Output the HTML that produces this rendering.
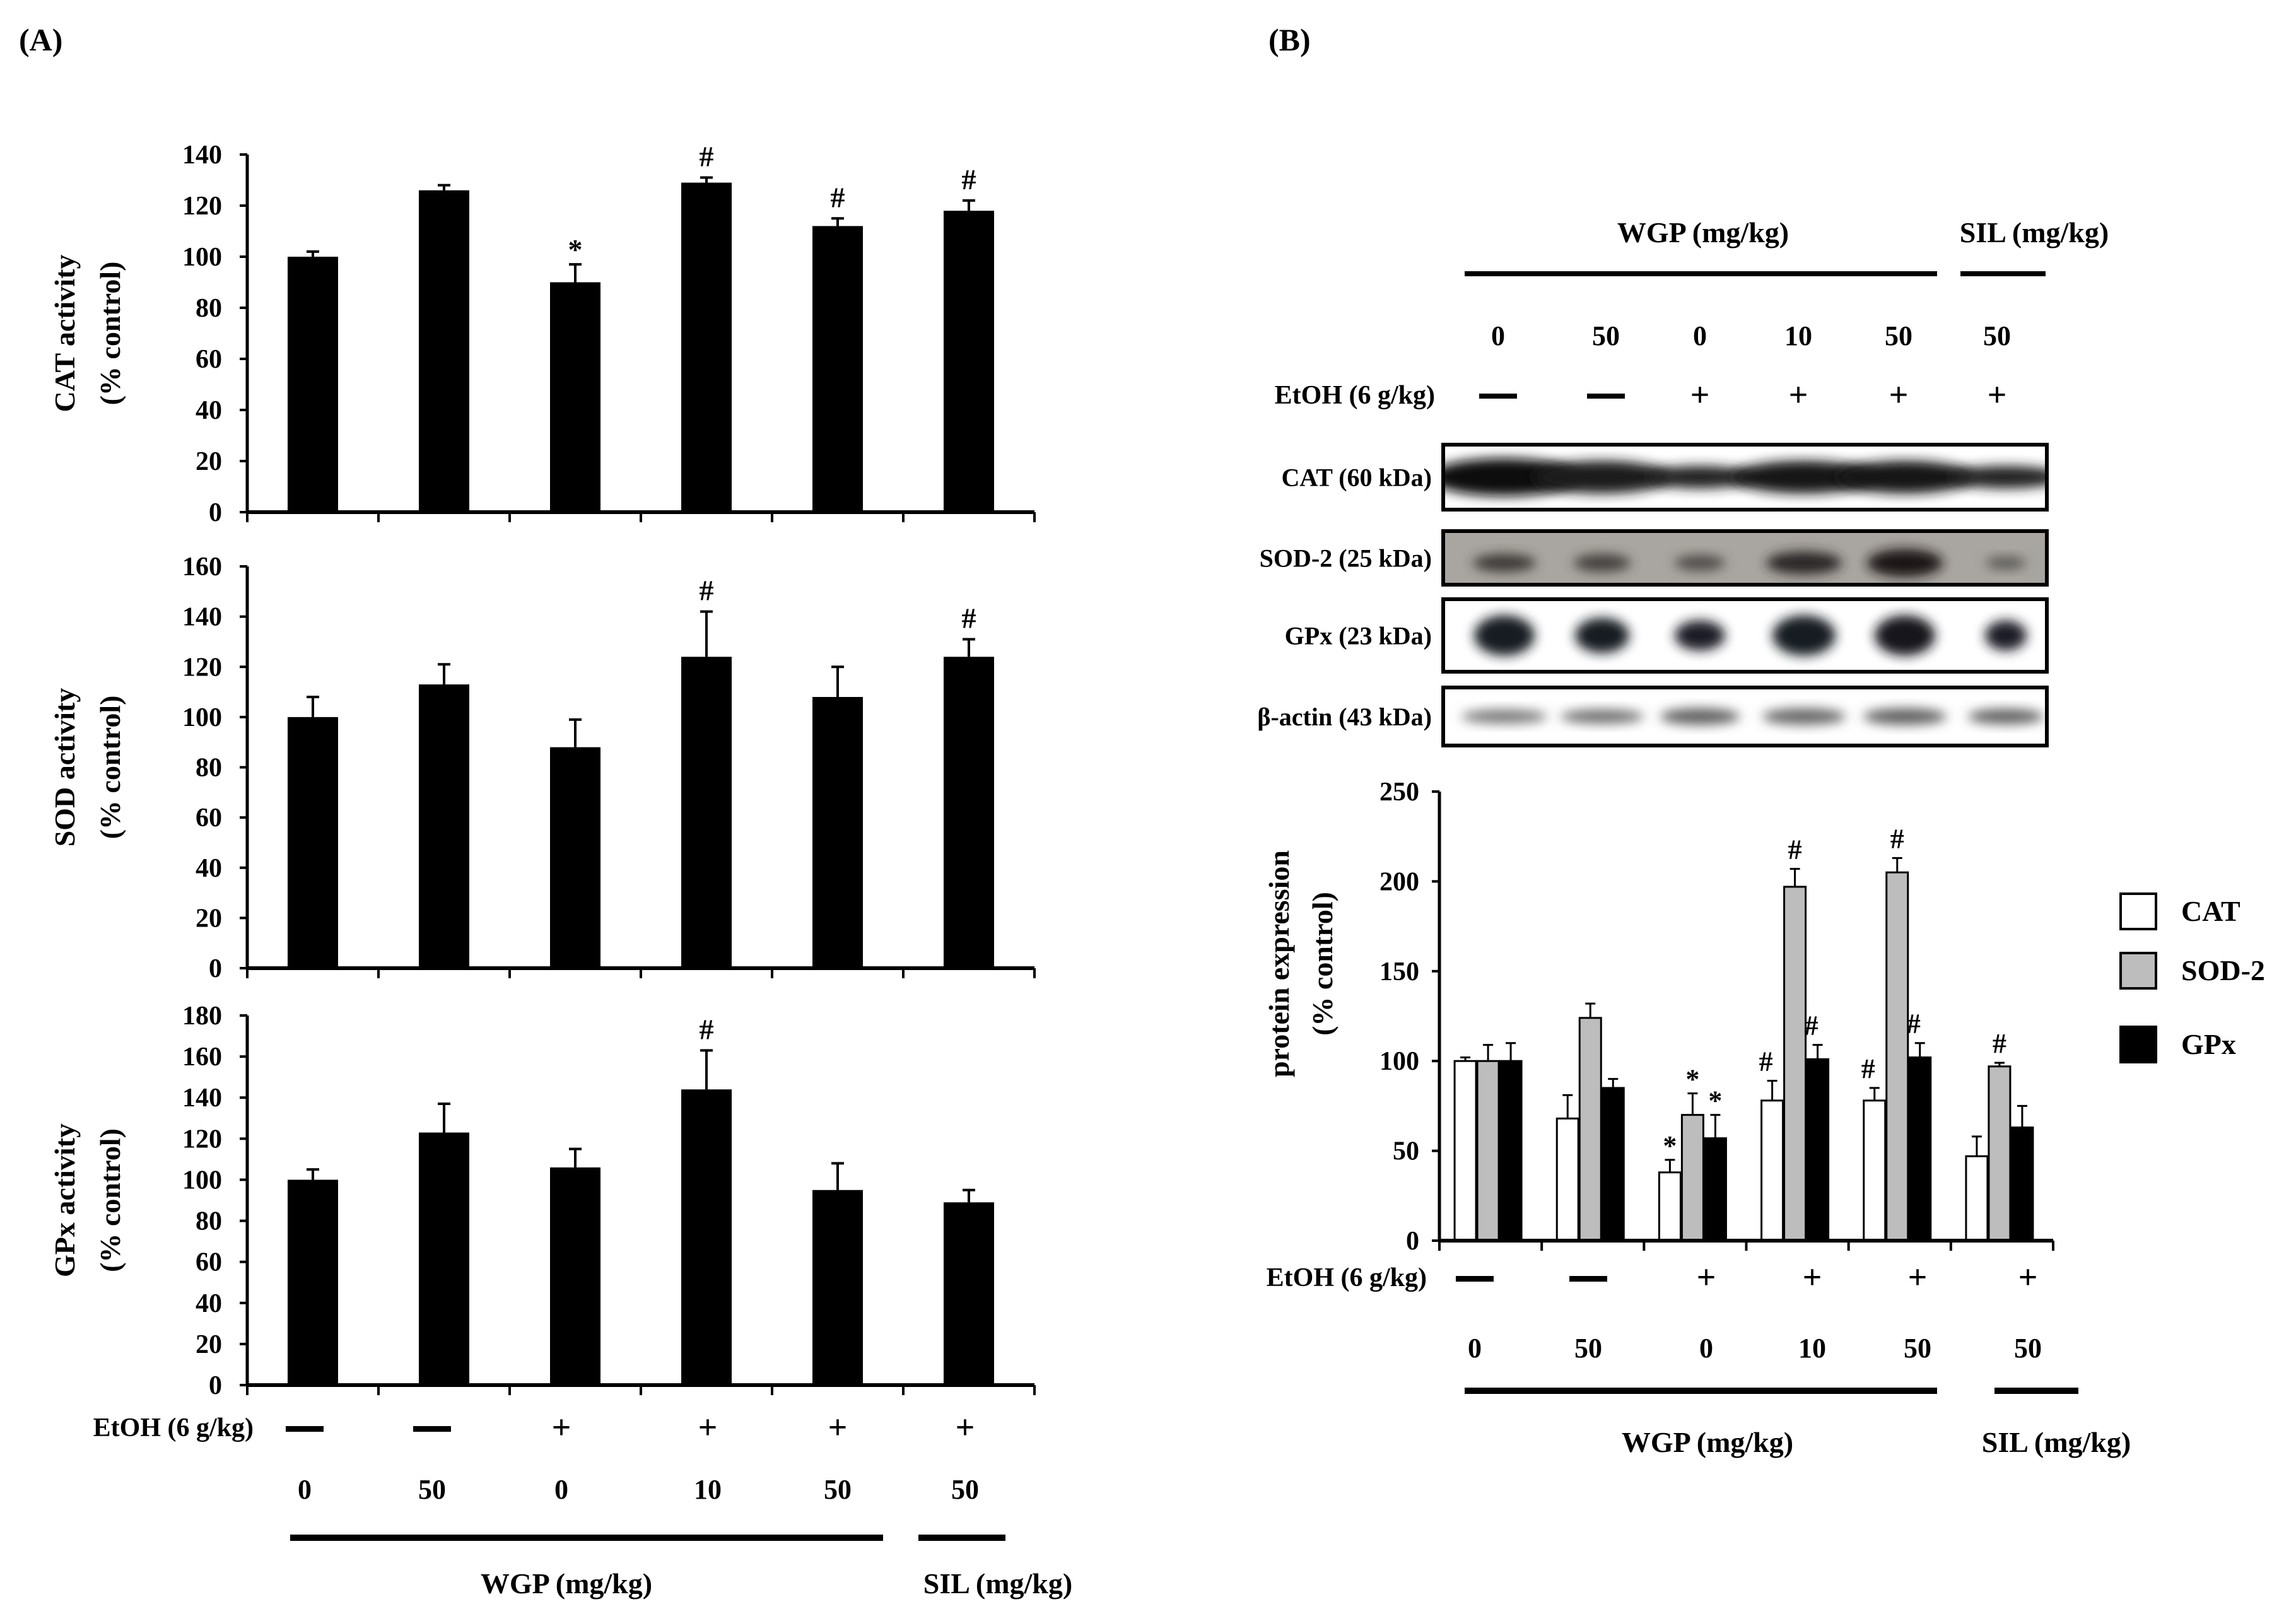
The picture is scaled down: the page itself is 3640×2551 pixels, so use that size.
<!DOCTYPE html>
<html><head><meta charset="utf-8"><style>
html,body{margin:0;padding:0;background:#fff}
svg{display:block}
text{font-family:"Liberation Serif",serif;font-weight:bold;fill:#000}
</style></head><body>
<svg id="fig" width="3640" height="2551" viewBox="0 0 3640 2551" xmlns="http://www.w3.org/2000/svg">
<defs>
<filter id="blur" x="-30%" y="-60%" width="160%" height="220%"><feGaussianBlur stdDeviation="9"/></filter>
</defs>
</svg>
<script>
// ---- Panel A data ----
const groups = ["0","50","0","10","50","50"];
const etoh = ["—","—","+","+","+","+"];
const catActivity = [100,126,90,129,112,118];
const catActivityErr = [2,2,7,2,3,4];
const catActivitySig = ["","","*","#","#","#"];
const sodActivity = [100,113,88,124,108,124];
const sodActivityErr = [8,8,11,18,12,7];
const sodActivitySig = ["","","","#","","#"];
const gpxActivity = [100,123,106,144,95,89];
const gpxActivityErr = [5,14,9,19,13,6];
const gpxActivitySig = ["","","","#","",""];
const catTicks = [0,20,40,60,80,100,120,140];
const sodTicks = [0,20,40,60,80,100,120,140,160];
const gpxTicks = [0,20,40,60,80,100,120,140,160,180];
// ---- Panel B data ----
const seriesNames = ["CAT","SOD-2","GPx"];
const catExpr = [100,68,38,78,78,47];
const catExprErr = [2,13,7,11,7,11];
const catExprSig = ["","","*","#","#",""];
const sodExpr = [100,124,70,197,205,97];
const sodExprErr = [9,8,12,10,8,2];
const sodExprSig = ["","","*","#","#","#"];
const gpxExpr = [100,85,57,101,102,63];
const gpxExprErr = [10,5,13,8,8,12];
const gpxExprSig = ["","","*","#","#",""];
const exprTicks = [0,50,100,150,200,250];
const blotLabels = ["CAT (60 kDa)","SOD-2 (25 kDa)","GPx (23 kDa)","β-actin (43 kDa)"];

const svg = document.getElementById('fig');
const NS = "http://www.w3.org/2000/svg";
function mk(tag, attrs, parent){
  const e = document.createElementNS(NS, tag);
  for (const k in attrs) e.setAttribute(k, attrs[k]);
  (parent||svg).appendChild(e);
  return e;
}
function txt(x,y,s,size,anchor,parent){
  const t = mk('text',{x:x,y:y,'font-size':size,'text-anchor':anchor||'middle'},parent);
  t.textContent = s;
  return t;
}

let t;
t = txt(30,80,"(A)",50,'start');


t = txt(2011,80,"(B)",50,'start');



const aX0 = 392, aX1 = 1640;
const aCenters = i => aX0 + (aX1-aX0)*(i+0.5)/6;
function chartA(name, vals, errs, sigs, ticks, yTop, yBot, title){
  const g = mk('g',{});
  
  
  const max = ticks[ticks.length-1];
  const y = v => yBot - (yBot-yTop)*v/max;
  mk('line',{x1:aX0,y1:yTop,x2:aX0,y2:yBot,stroke:'#000','stroke-width':5},g);
  ticks.forEach(v=>{
    mk('line',{x1:aX0-12,y1:y(v),x2:aX0,y2:y(v),stroke:'#000','stroke-width':4},g);
    const tl = txt(352,y(v)+14,String(v),42,'end',g);
    
    
  });
  mk('line',{x1:aX0,y1:yBot,x2:aX1,y2:yBot,stroke:'#000','stroke-width':6},g);
  for(let i=0;i<=6;i++){
    const xx = aX0+(aX1-aX0)*i/6;
    mk('line',{x1:xx,y1:yBot,x2:xx,y2:yBot+16,stroke:'#000','stroke-width':4},g);
  }
  vals.forEach((v,i)=>{
    const cx = aCenters(i);
    const b = mk('rect',{x:cx-40,y:y(v),width:80,height:yBot-y(v),fill:'#000'},g);
    
    
    const ye = y(v+errs[i]);
    mk('line',{x1:cx,y1:y(v),x2:cx,y2:ye,stroke:'#000','stroke-width':4},g);
    mk('line',{x1:cx-10,y1:ye,x2:cx+10,y2:ye,stroke:'#000','stroke-width':4},g);
    if(sigs[i]){
      const s = txt(cx, ye-18 + (sigs[i]=='*'?10:0), sigs[i], 46,'middle',g);
      
      
    }
  });
  const cy = (yTop+yBot)/2;
  const tt = mk('text',{transform:`translate(118,${cy}) rotate(-90)`,'font-size':46,'text-anchor':'middle'},g);
  tt.textContent = title;
  
  
  const t2 = mk('text',{transform:`translate(190,${cy}) rotate(-90)`,'font-size':46,'text-anchor':'middle'},g);
  t2.textContent = "(% control)";
  
  
}
chartA('cat-activity', catActivity, catActivityErr, catActivitySig, catTicks, 245, 812, "CAT activity");
chartA('sod-activity', sodActivity, sodActivityErr, sodActivitySig, sodTicks, 898, 1535, "SOD activity");
chartA('gpx-activity', gpxActivity, gpxActivityErr, gpxActivitySig, gpxTicks, 1610, 2196, "GPx activity");

function treatmentRows(centers, yE, yN, yL, wgpX0, wgpX1, silX0, silX1, labelX, yLab, wgpLabX, silLabX, prefix){
  t = txt(labelX, yE+14, "EtOH (6 g/kg)", 42, 'end');
  
  
  centers.forEach((cx,i)=>{
    if(etoh[i]=="—"){
      const r = mk('rect',{x:cx-30,y:yE-2,width:60,height:9,fill:'#000'});
      
      
    } else {
      const p = txt(cx, yE+18, "+", 54, 'middle');
      
      
    }
    const n = txt(cx, yN+15, groups[i], 44, 'middle');
    
    
  });
  let l = mk('rect',{x:wgpX0,y:yL-5,width:wgpX1-wgpX0,height:10,fill:'#000'});
  
  
  l = mk('rect',{x:silX0,y:yL-5,width:silX1-silX0,height:10,fill:'#000'});
  
  
  t = txt(wgpLabX, yLab+15, "WGP (mg/kg)", 46, 'middle');
  
  
  t = txt(silLabX, yLab+15, "SIL (mg/kg)", 46, 'middle');
  
  
}
const aC = [483,685,890,1122,1328,1530];
treatmentRows(aC, 2263, 2361, 2438, 460, 1400, 1456, 1594, 402, 2511, 898, 1582, 'a-');

const bC = [2375,2546,2695,2851,3010,3166];
t = txt(2700, 384, "WGP  (mg/kg)", 46, 'middle');


t = txt(3225, 384, "SIL (mg/kg)", 46, 'middle');


let hl = mk('rect',{x:2322,y:430,width:749,height:8,fill:'#000'});


hl = mk('rect',{x:3108,y:430,width:135,height:8,fill:'#000'});


t = txt(2275, 640, "EtOH (6 g/kg)", 42, 'end');


bC.forEach((cx,i)=>{
  const n = txt(cx, 547, groups[i], 44, 'middle');
  
  
  if(etoh[i]=="—"){
    const r = mk('rect',{x:cx-30,y:624,width:60,height:8,fill:'#000'});
    
    
  } else {
    const p = txt(cx, 644, "+", 54, 'middle');
    
    
  }
});

// Blots
const defs = svg.querySelector('defs');
const blotBoxes = [[705,808,'#fff'],[842,927,'#a9a5a0'],[950,1065,'#fff'],[1090,1182,'#fff']];
const bandW = [[120,110,85,115,110,90],[50,45,40,60,60,32],[48,43,40,50,48,33],[68,66,63,66,66,60]];
const bandH = [[30,26,18,26,26,18],[14,14,12,18,22,10],[32,28,24,32,32,24],[11,11,13,13,13,12]];
const bandC = [['#111','#1a1a1a','#222','#161616','#161616','#222'],['#3a3836','#43403e','#4c4946','#2a2826','#1c1818','#5a5855'],['#151a22','#151a22','#1a1f26','#151a22','#14181f','#1a1f26'],['#777','#6c6c6c','#5e5e5e','#666','#5e5e5e','#5e5e5e']];
const laneX = [2385,2540,2695,2860,3020,3180];
blotBoxes.forEach((b,k)=>{
  const cp = mk('clipPath',{id:'clip'+k},defs);
  mk('rect',{x:2288,y:b[0],width:957,height:b[1]-b[0]},cp);
  const g = mk('g',{});
  
  
  mk('rect',{x:2288,y:b[0],width:957,height:b[1]-b[0],fill:b[2]},g);
  const inner = mk('g',{'clip-path':'url(#clip'+k+')'},g);
  const cy=(b[0]+b[1])/2 + (k==1?8:0);
  laneX.forEach((lx,i)=>{
    mk('ellipse',{cx:lx,cy:cy,rx:bandW[k][i],ry:bandH[k][i],fill:bandC[k][i],filter:'url(#blur)'},inner);
  });
  mk('rect',{x:2288,y:b[0],width:957,height:b[1]-b[0],fill:'none',stroke:'#000','stroke-width':6},g);
  const lt = txt(2270, (b[0]+b[1])/2+14, blotLabels[k], 40, 'end');
  
  
});

// Panel B chart
const bX0=2282, bX1=3255, bTop=1255, bBot=1967;
const bMax = exprTicks[exprTicks.length-1];
const by = v => bBot-(bBot-bTop)*v/bMax;
const gB = mk('g',{});


const bGroupC = i => bX0 + (bX1-bX0)*(i+0.5)/6 - 4;
const series = [[catExpr,catExprErr,catExprSig,'#fff'],[sodExpr,sodExprErr,sodExprSig,'#bdbdbd'],[gpxExpr,gpxExprErr,gpxExprSig,'#000']];
series.forEach((s,k)=>{
  s[0].forEach((v,i)=>{
    const cx = bGroupC(i) + (k-1)*36;
    const r = mk('rect',{x:cx-17,y:by(v),width:34,height:bBot-by(v),fill:s[3],stroke:'#000','stroke-width':3},gB);
    
    
    const ye = by(v+s[1][i]);
    mk('line',{x1:cx,y1:by(v),x2:cx,y2:ye,stroke:'#000','stroke-width':3},gB);
    mk('line',{x1:cx-8,y1:ye,x2:cx+8,y2:ye,stroke:'#000','stroke-width':3},gB);
    if(s[2][i]){
      let sx = cx, sy = ye-16;
      if(s[2][i]=='#' && k!=1){ sx = cx-10; }
      if(s[2][i]=='*'){ sy = ye-8; }
      const m = txt(sx, sy, s[2][i], 44,'middle',gB);
      
      
    }
  });
});
mk('line',{x1:bX0,y1:bTop,x2:bX0,y2:bBot,stroke:'#000','stroke-width':5},gB);
mk('line',{x1:bX0,y1:bBot,x2:bX1,y2:bBot,stroke:'#000','stroke-width':6},gB);
exprTicks.forEach(v=>{
  mk('line',{x1:bX0-12,y1:by(v),x2:bX0,y2:by(v),stroke:'#000','stroke-width':4},gB);
  const tl = txt(2250, by(v)+14, String(v), 42, 'end', gB);
  
  
});
for(let i=0;i<=6;i++){
  const xx = bX0+(bX1-bX0)*i/6;
  mk('line',{x1:xx,y1:bBot,x2:xx,y2:bBot+16,stroke:'#000','stroke-width':4},gB);
}
t = mk('text',{transform:'translate(2043,1528) rotate(-90)','font-size':46,'text-anchor':'middle'});
t.textContent = "protein expression";


t = mk('text',{transform:'translate(2112,1528) rotate(-90)','font-size':46,'text-anchor':'middle'});
t.textContent = "(% control)";



const legY = [1445,1539,1656];
const legFill = ['#fff','#bdbdbd','#000'];
seriesNames.forEach((n,k)=>{
  const g = mk('g',{});
  
  
  mk('rect',{x:3362,y:legY[k]-28,width:56,height:56,fill:legFill[k],stroke:'#000','stroke-width':4},g);
  txt(3458, legY[k]+15, n, 46, 'start', g);
});

const bRowC = [2338,2518,2705,2873,3040,3215];
treatmentRows(bRowC, 2025, 2137, 2205, 2322, 3071, 3162, 3295, 2262, 2287, 2707, 3260, 'b-');
</script>
</body></html>
